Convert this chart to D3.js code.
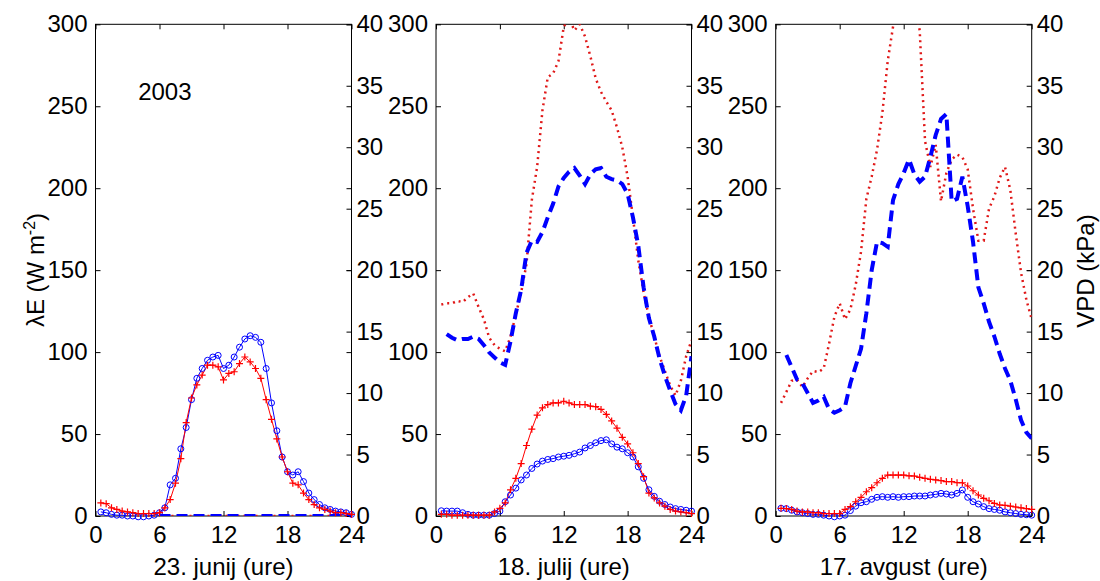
<!DOCTYPE html>
<html>
<head>
<meta charset="utf-8">
<script src="https://cdn.jsdelivr.net/npm/d3@7"></script>
<style>
  html, body { margin: 0; padding: 0; background: #ffffff; }
  svg { display: block; }
  text { font-family: "Liberation Sans", Arial, Helvetica, sans-serif; }
</style>
</head>
<body>
<script>
// ---------------- DATA ----------------
const hours = [0.5,1,1.5,2,2.5,3,3.5,4,4.5,5,5.5,6,6.5,7,7.5,8,8.5,9,9.5,10,10.5,11,11.5,12,
               12.5,13,13.5,14,14.5,15,15.5,16,16.5,17,17.5,18,18.5,19,19.5,20,20.5,21,21.5,22,22.5,23,23.5,24];

const xTicks = [0, 6, 12, 18, 24];
const leftTicks = [0, 50, 100, 150, 200, 250, 300];
const rightTicks = [0, 5, 10, 15, 20, 25, 30, 35, 40];
const panelLabels = ["23. junij (ure)", "18. julij (ure)", "17. avgust (ure)"];
const yLeftLabel = "λE (W m";
const yRightLabel = "VPD (kPa)";
const yearLabel = "2003";

// Panel 1 (23 June) - latent heat flux (left axis)
const le1Red  = [8,7.5,5,4,3,2.5,2,1.5,1.5,1.5,1.5,2,5,10,20,35,57,72,80,86,92,92,91,83,
                 87,88,93,97,94,90,84,71,59,47,36,27,20,19,14,10,7,5,4,3,2,2,1.5,1];
const le1Blue = [2.5,2,1,0.5,0.5,0,0,-0.5,-0.5,0,0.5,2,5,19,23,41,54,71,84,90,95,97,98,90,
                 92,97,103,108,110,109,106,90,69,52,36,27,25,27,21,14,10,7,5,4,3,2.5,2,1];
// Panel 1 - VPD (right axis)
const vpd1Red  = [null,null,null,null,null,null,null,null,null,null,null,0,0,0,0,0,0,0,0,0,0,0,0,0,
                  0,0,0,0,0,0,0,0,0,0,0,0,0,0,0,0,0,0,0,0,0,0,0,0];
const vpd1Blue = [null,null,null,null,null,null,null,null,null,null,null,0,0,0,0,0,0,0,0,0,0,0,0,0,
                  0,0,0,0,0,0,0,0,0,0,0,0,0,0,0,0,0,0,0,0,0,0,0,0];

// Panel 2 (18 July)
const le2Red  = [1,1,0.5,0.5,0.5,0.5,0.5,0.5,0.5,0.5,2.5,4.7,8,16,23,32,43,53,61.6,66,68,69,69,70,
                 69,68,68,68,67,66.7,65,62,58,53.6,48,44,38.6,32,24,14,11,8,6,4,3,2.5,2,1.5];
const le2Blue = [3.2,3,3,3,2,1,0.5,0.5,0.5,0.5,1.5,3,8.7,12.8,17,22,25,29,31.7,33.5,34.5,35,36,36.5,
                 37,38,39,41.5,43,44.7,46,46.5,44,42,41,38.6,36,30,23,16,12,9,7,5.5,4.5,4,3.5,3];
const vpd2Red  = [17.2,17.3,17.3,17.5,17.4,17.8,18.1,17.0,16.0,14.5,13.9,13.6,13.4,14.6,16.4,18.2,20.5,25.7,28.4,33.0,35.7,36.0,37.0,39.8,
                  40.5,39.5,40.0,39.0,37.4,35.6,34.5,33.7,33.0,31.6,30.0,27.6,24.3,20.8,18.2,16.2,14.6,13.0,11.8,10.6,9.8,11.0,13.0,14.3];
const vpd2Blue = [null,14.8,14.5,14.3,14.4,14.4,14.6,14.4,13.9,13.3,12.9,12.5,12.3,14.2,16.5,18.4,21.4,22.4,22.3,23.1,24.3,25.4,26.8,27.5,
                  28.0,28.3,27.7,27.0,27.8,28.2,28.3,27.6,27.4,27.3,27.0,26.2,24.3,22.0,18.6,16.1,14.6,12.8,11.4,10.2,9.1,8.6,9.8,13.0];

// Panel 3 (17 August)
const le3Red  = [4.7,4.5,4,3,2.5,2.5,2,2,1.5,1.5,1.5,1.5,4,5.7,8.7,11.4,14.8,17.3,20.3,23,25,25,25,25,
                 24.5,24.4,23.6,23,22.4,22,21.6,21,21,20.3,20.3,18.3,15.4,12.8,10.8,9.3,7.7,6.7,6.5,6,5.5,5,4.5,4];
const le3Blue = [4.7,4.5,3.5,2.5,2,1.5,1,1,0.5,0,-0.5,0,0.5,3.3,6,8.1,8.7,10.2,11.4,11.8,11.4,11.8,11.4,11.8,
                 11.8,12.2,12.2,12.2,12.8,13.2,13.8,13.4,12.8,13.8,15.9,11.4,8.7,7.3,5.7,4.5,4,3.5,2.5,2,1.5,1,0.8,0.5];
const vpd3Red  = [9.2,10.1,11.0,11.1,10.5,11.2,11.8,11.7,12.0,14.0,16.2,17.3,16.0,16.8,18.8,21.5,25.8,27.6,29.8,32.8,37.0,39.8,42,44,
                  44,42,39.5,30.5,28.4,30.2,25.6,27.9,29.0,29.4,29.2,28.2,25.0,22.4,22.4,25.0,26.0,27.5,28.4,26.5,23.0,19.8,17.6,16.0];
const vpd3Blue = [null,13.1,12.1,11.1,10.8,10.0,9.2,9.4,9.7,8.7,8.4,8.6,8.9,10.8,12.2,13.6,16.5,20.0,22.3,22.2,21.9,25.7,27.0,27.9,
                  29.0,27.8,27.2,27.6,29.2,31.0,32.3,32.7,25.6,25.8,27.6,25.2,22.3,18.6,17.3,15.8,14.6,13.2,12.0,11.0,9.5,7.8,6.8,6.3];

const panels = [
  { label: panelLabels[0], leRed: le1Red, leBlue: le1Blue, vpdRed: vpd1Red, vpdBlue: vpd1Blue },
  { label: panelLabels[1], leRed: le2Red, leBlue: le2Blue, vpdRed: vpd2Red, vpdBlue: vpd2Blue },
  { label: panelLabels[2], leRed: le3Red, leBlue: le3Blue, vpdRed: vpd3Red, vpdBlue: vpd3Blue }
];

// ---------------- LAYOUT ----------------
const W = 1100, H = 581;
const plotTop = 24.3, plotBottom = 516;
const panelX = [[95.5, 351.5], [436, 691.5], [775.7, 1031.7]];
const FONT = 24;
const RED = "#ff0000", BLUE = "#0000ff";

const svg = d3.select("body").append("svg").attr("width", W).attr("height", H);
svg.append("rect").attr("width", W).attr("height", H).attr("fill", "#ffffff");

function styleAxis(g) {
  g.attr("font-size", FONT).attr("font-family", "'Liberation Sans', Arial, sans-serif");
  g.select(".domain").remove();
  g.selectAll(".tick line").attr("stroke", "#000").attr("stroke-width", 1);
  g.selectAll(".tick text").attr("fill", "#000");
}

panels.forEach((p, i) => {
  const [x0, x1] = panelX[i];
  const x = d3.scaleLinear().domain([0, 24]).range([x0, x1]);
  const yL = d3.scaleLinear().domain([0, 300]).range([plotBottom, plotTop]);
  const yR = d3.scaleLinear().domain([0, 40]).range([plotBottom, plotTop]);

  const g = svg.append("g");
  const clipId = "clip" + i;
  g.append("clipPath").attr("id", clipId)
    .append("rect").attr("x", x0).attr("y", plotTop)
    .attr("width", x1 - x0).attr("height", plotBottom - plotTop);

  // axes ticks (inward)
  g.append("g").attr("transform", `translate(${x0},0)`)
    .call(d3.axisLeft(yL).tickValues(leftTicks).tickSize(-5).tickPadding(8).tickFormat(d3.format("d")))
    .call(styleAxis);
  g.append("g").attr("transform", `translate(${x1},0)`)
    .call(d3.axisRight(yL).tickValues(leftTicks).tickSize(-5).tickFormat(""))
    .call(styleAxis);
  g.append("g").attr("transform", `translate(${x1},0)`)
    .call(d3.axisRight(yR).tickValues(rightTicks).tickSize(-5).tickPadding(5).tickFormat(d3.format("d")))
    .call(styleAxis);
  g.append("g").attr("transform", `translate(0,${plotTop})`)
    .call(d3.axisTop(x).tickValues(xTicks).tickSize(-5).tickFormat(""))
    .call(styleAxis);
  g.append("g").attr("transform", `translate(0,${plotBottom})`)
    .call(d3.axisBottom(x).tickValues(xTicks).tickSize(-5).tickPadding(10).tickFormat(d3.format("d")))
    .call(styleAxis);

  // box
  g.append("rect").attr("x", x0).attr("y", plotTop)
    .attr("width", x1 - x0).attr("height", plotBottom - plotTop)
    .attr("fill", "none").attr("stroke", "#000").attr("stroke-width", 1);

  const data = key => hours.map((h, k) => ({ h, v: p[key][k] }));
  const lineL = d3.line().defined(d => d.v !== null).x(d => x(d.h)).y(d => yL(d.v));
  const lineR = d3.line().defined(d => d.v !== null).x(d => x(d.h)).y(d => yR(d.v));

  const clipG = g.append("g").attr("clip-path", `url(#${clipId})`);

  // λE blue circles
  clipG.append("path").datum(data("leBlue")).attr("d", lineL)
    .attr("fill", "none").attr("stroke", BLUE).attr("stroke-width", 1);
  g.append("g").selectAll("circle").data(data("leBlue")).join("circle")
    .attr("cx", d => x(d.h)).attr("cy", d => yL(d.v)).attr("r", 3)
    .attr("fill", "none").attr("stroke", BLUE).attr("stroke-width", 1);

  // λE red plus
  clipG.append("path").datum(data("leRed")).attr("d", lineL)
    .attr("fill", "none").attr("stroke", RED).attr("stroke-width", 1);
  g.append("g").selectAll("path").data(data("leRed")).join("path")
    .attr("transform", d => `translate(${x(d.h)},${yL(d.v)})`)
    .attr("d", "M-3.5,0H3.5M0,-3.5V3.5")
    .attr("fill", "none").attr("stroke", RED).attr("stroke-width", 1.2);

  // VPD red dotted
  clipG.append("path").datum(data("vpdRed")).attr("d", lineR)
    .attr("fill", "none").attr("stroke", "#e01818").attr("stroke-width", 2.5)
    .attr("stroke-dasharray", "2,4");
  // VPD blue dashed
  clipG.append("path").datum(data("vpdBlue")).attr("d", lineR)
    .attr("fill", "none").attr("stroke", BLUE).attr("stroke-width", 4)
    .attr("stroke-dasharray", "11,6");

  // x-axis title
  g.append("text").attr("x", (x0 + x1) / 2).attr("y", 575)
    .attr("text-anchor", "middle").attr("font-size", FONT).attr("fill", "#000")
    .text(p.label);

  if (i === 0) {
    g.append("text").attr("x", x(4)).attr("y", yL(254))
      .attr("font-size", FONT).attr("fill", "#000").text(yearLabel);
  }
});

// y-axis titles
const lt = svg.append("text").attr("transform", `translate(43.5,270) rotate(-90)`)
  .attr("text-anchor", "middle").attr("font-size", FONT).attr("fill", "#000");
lt.append("tspan").text(yLeftLabel);
lt.append("tspan").attr("dy", -9).attr("font-size", 16).text("-2");
lt.append("tspan").attr("dy", 9).text(")");

svg.append("text").attr("transform", `translate(1093.5,271) rotate(-90)`)
  .attr("text-anchor", "middle").attr("font-size", FONT).attr("fill", "#000")
  .text(yRightLabel);
</script>
</body>
</html>
